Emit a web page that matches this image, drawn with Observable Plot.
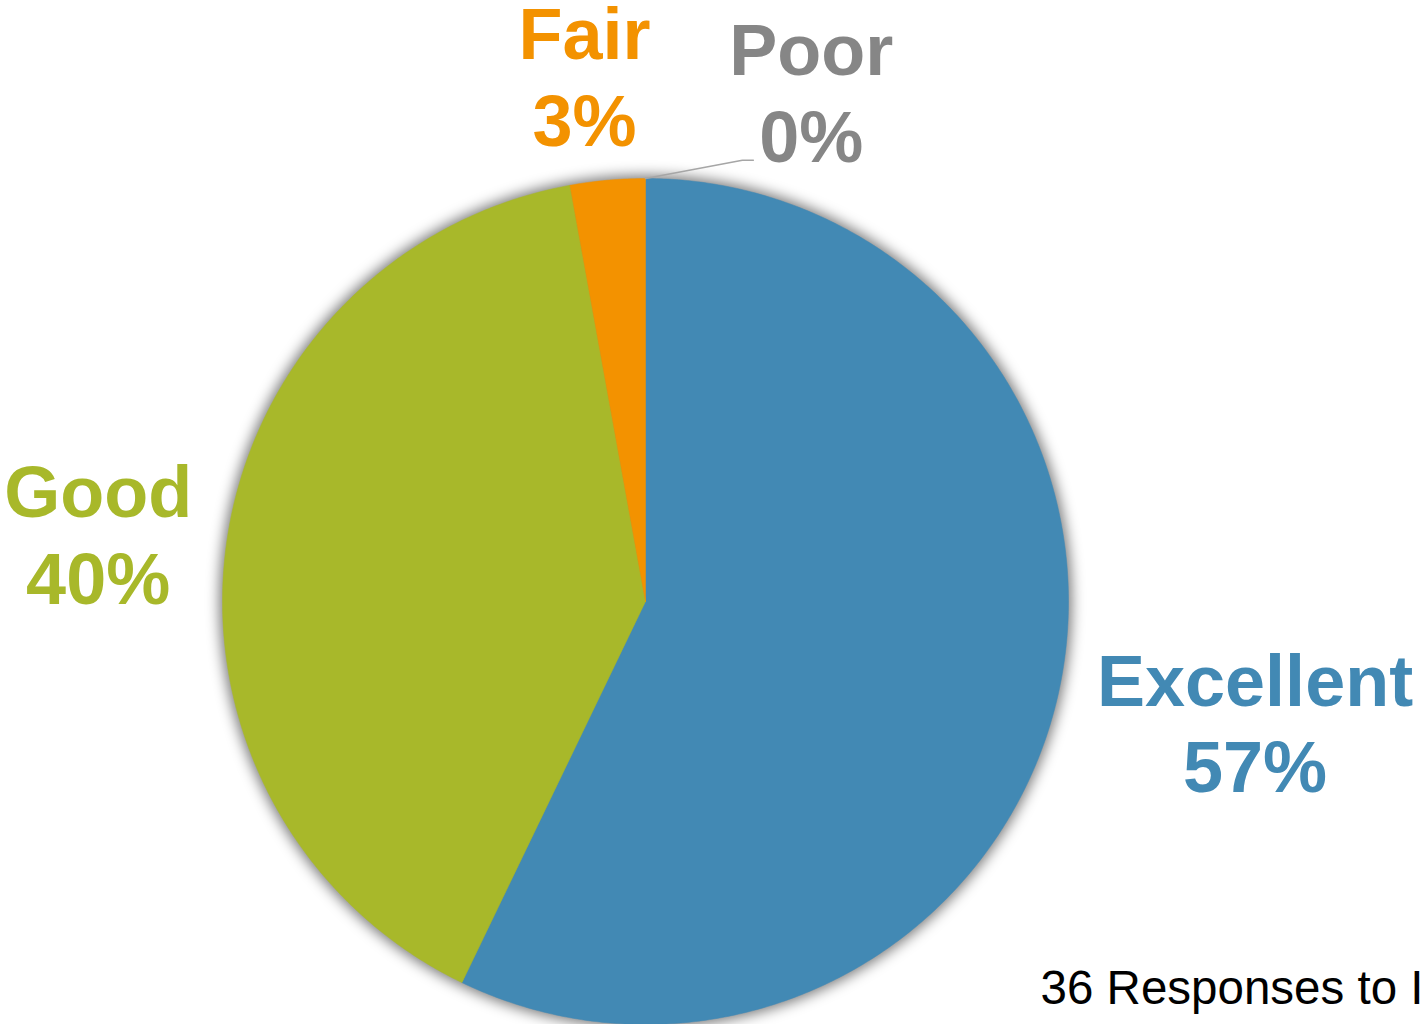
<!DOCTYPE html>
<html>
<head>
<meta charset="utf-8">
<script src="https://cdn.jsdelivr.net/npm/d3@7"></script>
<script src="https://cdn.jsdelivr.net/npm/@observablehq/plot@0.6"></script>
<style>
  html, body { margin: 0; padding: 0; background: #fff; overflow: hidden; }
  #chart svg { display: block; overflow: hidden; }
</style>
</head>
<body>
<div id="chart"></div>
<script>
// ---- data ----
const categories = ["Excellent", "Good", "Fair", "Poor"];
const counts = [20, 14, 1, 0];
const colors = ["#4289b4", "#a8b82a", "#f39200", "#868686"];
const footerText = "36 Responses to I";

// ---- layout (frame units: pie radius = 1) ----
const labelAnchors = [[1.441, -0.283], [-1.294, 0.162], [-0.144, 1.245], [0.392, 1.207]];
const leaderBend = [[0.229, 1.043], [0.255, 1.043]];
const footerAnchor = [0.934, -0.916];

// ---- build slice polygons from d3.pie ----
const total = d3.sum(counts);
const arcs = d3.pie().sort(null).value(d => d)(counts);
const pts = [];
arcs.forEach((a, i) => {
  if (a.endAngle - a.startAngle <= 0) return;
  const key = categories[i];
  pts.push({key, x: 0, y: 0});
  const steps = Math.max(2, Math.ceil((a.endAngle - a.startAngle) / (Math.PI / 360)));
  for (let s = 0; s <= steps; s++) {
    const t = a.startAngle + (a.endAngle - a.startAngle) * s / steps;
    pts.push({key, x: Math.sin(t), y: Math.cos(t)});
  }
  pts.push({key, x: 0, y: 0});
});
const outline = pts.filter(p => p.x !== 0 || p.y !== 0);

const fmt = d3.format(".0%");
const labels = categories.map((c, i) => ({
  text: c + "\n" + fmt(counts[i] / total),
  x: labelAnchors[i][0], y: labelAnchors[i][1], color: colors[i]
}));

const poorArc = arcs[3];
const leader = [
  {x: Math.sin(poorArc.startAngle), y: Math.cos(poorArc.startAngle)},
  {x: leaderBend[0][0], y: leaderBend[0][1]},
  {x: leaderBend[1][0], y: leaderBend[1][1]}
];

const chart = Plot.plot({
  width: 1420,
  height: 1024,
  marginLeft: 222,
  marginRight: 352,
  marginTop: 178,
  marginBottom: 0,
  x: {domain: [-1, 1], axis: null},
  y: {domain: [-1, 1], axis: null},
  color: {domain: categories, range: colors},
  style: {fontFamily: "'Liberation Sans', Arial, sans-serif", background: "#fff"},
  marks: [
    Plot.line(outline, {x: "x", y: "y", fill: "#000", fillOpacity: 0.5, stroke: "#000", strokeOpacity: 0.5, strokeWidth: 5}),
    Plot.line(pts, {x: "x", y: "y", z: "key", fill: "key", stroke: "key", strokeWidth: 0.5}),
    Plot.line(leader, {x: "x", y: "y", stroke: "#a6a6a6", strokeWidth: 1.5}),
    Plot.text(labels, {x: "x", y: "y", text: "text", fill: "color", fontSize: 72, fontWeight: "bold", lineHeight: 1.2, textAnchor: "middle"}),
    Plot.text([footerText], {x: () => footerAnchor[0], y: () => footerAnchor[1], text: d => d, fill: "#000", fontSize: 47.5, textAnchor: "start"})
  ]
});

// soft shadow via an SVG blur filter on the shadow copy only (first mark group)
const svg = d3.select(chart);
const defs = svg.insert("defs", ":first-child");
defs.append("filter").attr("id", "pieShadow")
  .attr("x", "-20%").attr("y", "-20%").attr("width", "140%").attr("height", "140%")
  .append("feGaussianBlur").attr("stdDeviation", 7);
const groups = svg.selectAll(":scope > g").nodes();
if (groups.length) d3.select(groups[0]).attr("filter", "url(#pieShadow)");
document.getElementById("chart").appendChild(chart);
</script>
</body>
</html>
